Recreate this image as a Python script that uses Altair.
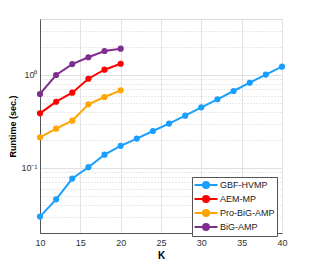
import altair as alt
import pandas as pd

methods = ["GBF-HVMP", "AEM-MP", "Pro-BiG-AMP", "BiG-AMP"]
colors = ["#1a9fff", "#ff0000", "#ffa500", "#7e2f8e"]

k_gbf = [10, 12, 14, 16, 18, 20, 22, 24, 26, 28, 30, 32, 34, 36, 38, 40]
t_gbf = [0.030, 0.046, 0.077, 0.102, 0.139, 0.173, 0.207, 0.25, 0.30, 0.365,
         0.449, 0.548, 0.673, 0.826, 1.01, 1.23]
k_short = [10, 12, 14, 16, 18, 20]
t_aem = [0.387, 0.516, 0.645, 0.912, 1.14, 1.32]
t_pro = [0.214, 0.265, 0.323, 0.484, 0.58, 0.684]
t_big = [0.625, 1.0, 1.31, 1.55, 1.81, 1.92]

x_ticks = [10, 15, 20, 25, 30, 35, 40]
y_ticks = [0.02, 0.03, 0.04, 0.05, 0.06, 0.07, 0.08, 0.09, 0.1,
           0.2, 0.3, 0.4, 0.5, 0.6, 0.7, 0.8, 0.9, 1, 2, 3, 4]

rows = []
for k, t in zip(k_gbf, t_gbf):
    rows.append({"K": k, "Runtime": t, "Method": methods[0]})
for series, name in [(t_aem, methods[1]), (t_pro, methods[2]), (t_big, methods[3])]:
    for k, t in zip(k_short, series):
        rows.append({"K": k, "Runtime": t, "Method": name})
df = pd.DataFrame(rows)

font = "Liberation Sans"
# legend symbol: a line with a filled dot, wider than the nominal symbol box
sym = "M-2.3,0L2.3,0M-0.6,0A0.6,0.6 0 1,0 0.6,0A0.6,0.6 0 1,0 -0.6,0Z"

color = alt.Color(
    "Method:N",
    scale=alt.Scale(domain=methods, range=colors),
    sort=methods,
    legend=alt.Legend(
        title=None, orient="none", legendX=152, legendY=158,
        symbolType=sym, symbolSize=100, symbolStrokeWidth=2,
        labelFont=font, labelFontSize=9, labelColor="#222",
        rowPadding=0, padding=2, strokeColor="#555", fillColor="white",
        symbolOffset=6, labelOffset=8,
    ),
)

x = alt.X("K:Q", title="K",
          scale=alt.Scale(domain=[10, 40], nice=False),
          axis=alt.Axis(values=x_ticks, grid=True, gridColor="#e3e3e3",
                        ticks=False, labelPadding=5, labelFontSize=9,
                        labelFont=font, labelColor="#333", labelOverlap=False,
                        labelFlush=False, labelBound=False,
                        titleFont=font, titleFontSize=10, titleFontWeight="bold",
                        titlePadding=3, domainColor="#555"))
y = alt.Y("Runtime:Q", title="Runtime (sec.)",
          scale=alt.Scale(type="log", domain=[0.02, 4], nice=False),
          axis=alt.Axis(values=y_ticks, grid=True,
                        gridColor={"condition": {"test": "datum.value == 0.1 || datum.value == 1", "value": "#e0e0e0"}, "value": "#d4d4d4"},
                        gridDash={"condition": {"test": "datum.value == 0.1 || datum.value == 1", "value": []}, "value": [1, 2]},
                        labelExpr="datum.value == 1 ? '10⁰' : (datum.value == 0.1 ? '10⁻¹' : '')",
                        ticks=False, labelPadding=3, labelFontSize=9,
                        labelFont=font, labelColor="#333", labelOverlap=False,
                        labelFlush=False,
                        titleFont=font, titleFontSize=9, titleFontWeight="bold",
                        titlePadding=3, domainColor="#555"))

base = alt.Chart(df)
lines = base.mark_line(strokeWidth=2).encode(x=x, y=y, color=color, detail="Method:N")
points = base.mark_circle(size=38, opacity=1).encode(
    x=x, y=y,
    color=alt.Color("Method:N", scale=alt.Scale(domain=methods, range=colors), legend=None))

chart = alt.layer(lines, points).properties(
    width=242, height=214,
    autosize=alt.AutoSizeParams(type="none"),
    padding={"left": 32, "top": 11, "right": 22, "bottom": 32},
).configure_view(stroke="#777", strokeWidth=1).configure(background="white")

chart.save("out.html", embed_options={"renderer": "svg", "actions": False})
